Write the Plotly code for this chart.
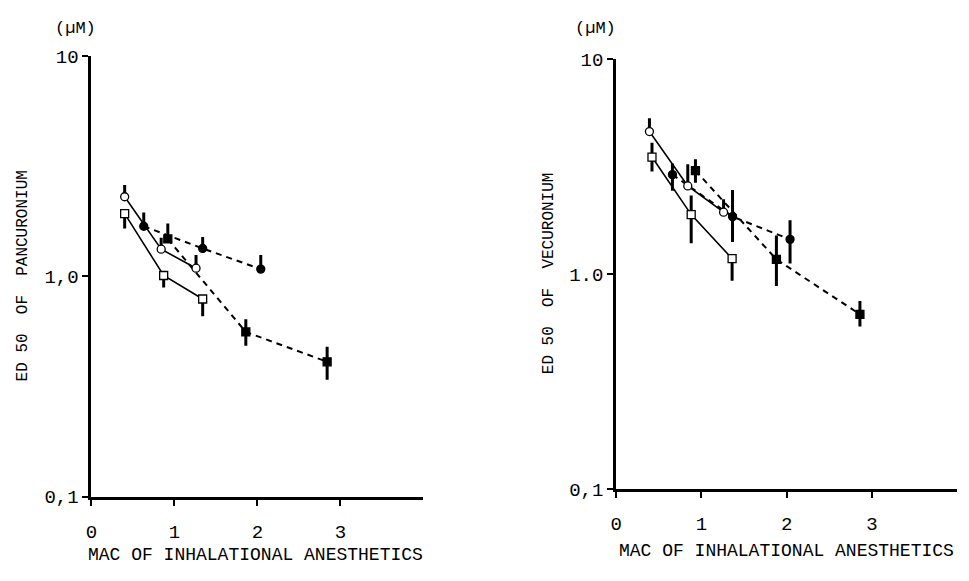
import plotly.graph_objects as go

# ---------------- data: left panel (pancuronium) ----------------
L_oc_x = [0.40, 0.84, 1.26]
L_oc_y = [2.30, 1.33, 1.09]
L_oc_hi = [2.60, 1.50, 1.25]
L_oc_lo = [2.30, 1.33, 1.09]

L_os_x = [0.40, 0.87, 1.34]
L_os_y = [1.93, 1.01, 0.79]
L_os_hi = [1.93, 1.01, 0.79]
L_os_lo = [1.65, 0.89, 0.66]

L_fc_x = [0.63, 1.34, 2.04]
L_fc_y = [1.69, 1.34, 1.08]
L_fc_hi = [1.95, 1.51, 1.25]
L_fc_lo = [1.69, 1.34, 1.08]

L_fs_x = [0.92, 1.86, 2.84]
L_fs_y = [1.48, 0.56, 0.41]
L_fs_hi = [1.74, 0.64, 0.48]
L_fs_lo = [1.48, 0.485, 0.34]

# ---------------- data: right panel (vecuronium) ----------------
R_oc_x = [0.39, 0.84, 1.26]
R_oc_y = [4.60, 2.57, 1.94]
R_oc_hi = [5.30, 3.24, 2.23]
R_oc_lo = [4.60, 2.57, 1.94]

R_os_x = [0.42, 0.88, 1.36]
R_os_y = [3.50, 1.89, 1.18]
R_os_hi = [4.08, 2.32, 1.18]
R_os_lo = [3.00, 1.39, 0.93]

R_fc_x = [0.66, 1.365, 2.04]
R_fc_y = [2.90, 1.85, 1.45]
R_fc_hi = [3.27, 2.46, 1.78]
R_fc_lo = [2.44, 1.41, 1.12]

R_fs_x = [0.93, 1.88, 2.86]
R_fs_y = [3.03, 1.17, 0.65]
R_fs_hi = [3.42, 1.51, 0.75]
R_fs_lo = [2.66, 0.88, 0.57]

y_tickvals = [0.1, 1, 10]
L_y_ticktext = ["0,1", "1,0", "10"]
R_y_ticktext = ["0,1", "1.0", "10"]
x_tickvals = [0, 1, 2, 3]
x_ticktext = ["0", "1", "2", "3"]

FONT = "Liberation Mono"

fig = go.Figure()


def add_series(x, y, hi, lo, symbol, filled, dash, xa, ya, lw):
    fig.add_trace(go.Scatter(
        x=x, y=y, xaxis=xa, yaxis=ya, mode="lines+markers",
        line=dict(color="black", width=lw, dash=dash),
        marker=dict(symbol=symbol, size=8, color="black" if filled else "white",
                    line=dict(color="black", width=1.3)),
        error_y=dict(type="data", symmetric=False,
                     array=[h - v for h, v in zip(hi, y)],
                     arrayminus=[v - l for v, l in zip(y, lo)],
                     color="black", thickness=3, width=0),
        showlegend=False, hoverinfo="skip"))


DASH = "6px,5px"
# dashed first so solid/open markers draw on top
add_series(L_fc_x, L_fc_y, L_fc_hi, L_fc_lo, "circle", True, DASH, "x", "y", 2)
add_series(L_fs_x, L_fs_y, L_fs_hi, L_fs_lo, "square", True, DASH, "x", "y", 2)
add_series(L_oc_x, L_oc_y, L_oc_hi, L_oc_lo, "circle", False, "solid", "x", "y", 1.6)
add_series(L_os_x, L_os_y, L_os_hi, L_os_lo, "square", False, "solid", "x", "y", 1.6)

add_series(R_fc_x, R_fc_y, R_fc_hi, R_fc_lo, "circle", True, DASH, "x2", "y2", 2)
add_series(R_fs_x, R_fs_y, R_fs_hi, R_fs_lo, "square", True, DASH, "x2", "y2", 2)
add_series(R_oc_x, R_oc_y, R_oc_hi, R_oc_lo, "circle", False, "solid", "x2", "y2", 1.6)
add_series(R_os_x, R_os_y, R_os_hi, R_os_lo, "square", False, "solid", "x2", "y2", 1.6)

W, H = 969, 581
def px(v):
    return v / W
def py(v):
    return (H - v) / H

xaxis_common = dict(range=[0, 4], showgrid=False, zeroline=False, showline=True,
                    linecolor="black", linewidth=3, ticks="outside", ticklen=6,
                    tickwidth=2, tickcolor="black", tickvals=x_tickvals, ticktext=x_ticktext,
                    tickfont=dict(family=FONT, size=19, color="black"),
                    ticklabelstandoff=9)
yaxis_common = dict(type="log", range=[-1, 1], showgrid=False, zeroline=False, showline=True,
                    linecolor="black", linewidth=3, ticks="outside", ticklen=6,
                    tickwidth=2, tickcolor="black", tickvals=y_tickvals,
                    tickfont=dict(family=FONT, size=19, color="black"))

fig.update_layout(
    width=W, height=H, margin=dict(l=0, r=0, t=0, b=0),
    paper_bgcolor="white", plot_bgcolor="white",
    xaxis=dict(domain=[px(86), px(420)], anchor="y", **xaxis_common),
    yaxis=dict(domain=[py(507), py(49)], anchor="x", ticktext=L_y_ticktext, **yaxis_common),
    xaxis2=dict(domain=[px(614), px(957)], anchor="y2", **xaxis_common),
    yaxis2=dict(domain=[py(499), py(52)], anchor="x2", ticktext=R_y_ticktext, **yaxis_common),
)

ann_font = dict(family=FONT, size=17, color="black")
annotations = [
    dict(text="(\u00b5M)", x=px(70), y=py(20), font=ann_font),
    dict(text="(\u00b5M)", x=px(593), y=py(20), font=ann_font),
    dict(text="ED 50  OF  PANCURONIUM", x=px(17), y=py(277), textangle=-90,
         font=dict(family=FONT, size=16, color="black")),
    dict(text="ED 50  OF  VECURONIUM", x=px(546), y=py(275), textangle=-90,
         font=dict(family=FONT, size=16, color="black")),
    dict(text="MAC OF INHALATIONAL ANESTHETICS", x=px(251), y=py(567),
         font=dict(family=FONT, size=18, color="black")),
    dict(text="MAC OF INHALATIONAL ANESTHETICS", x=px(785), y=py(563),
         font=dict(family=FONT, size=18, color="black")),
]
for a in annotations:
    a.update(xref="paper", yref="paper", showarrow=False, xanchor="center", yanchor="middle")
fig.update_layout(annotations=annotations)

fig.write_html("out.html")
